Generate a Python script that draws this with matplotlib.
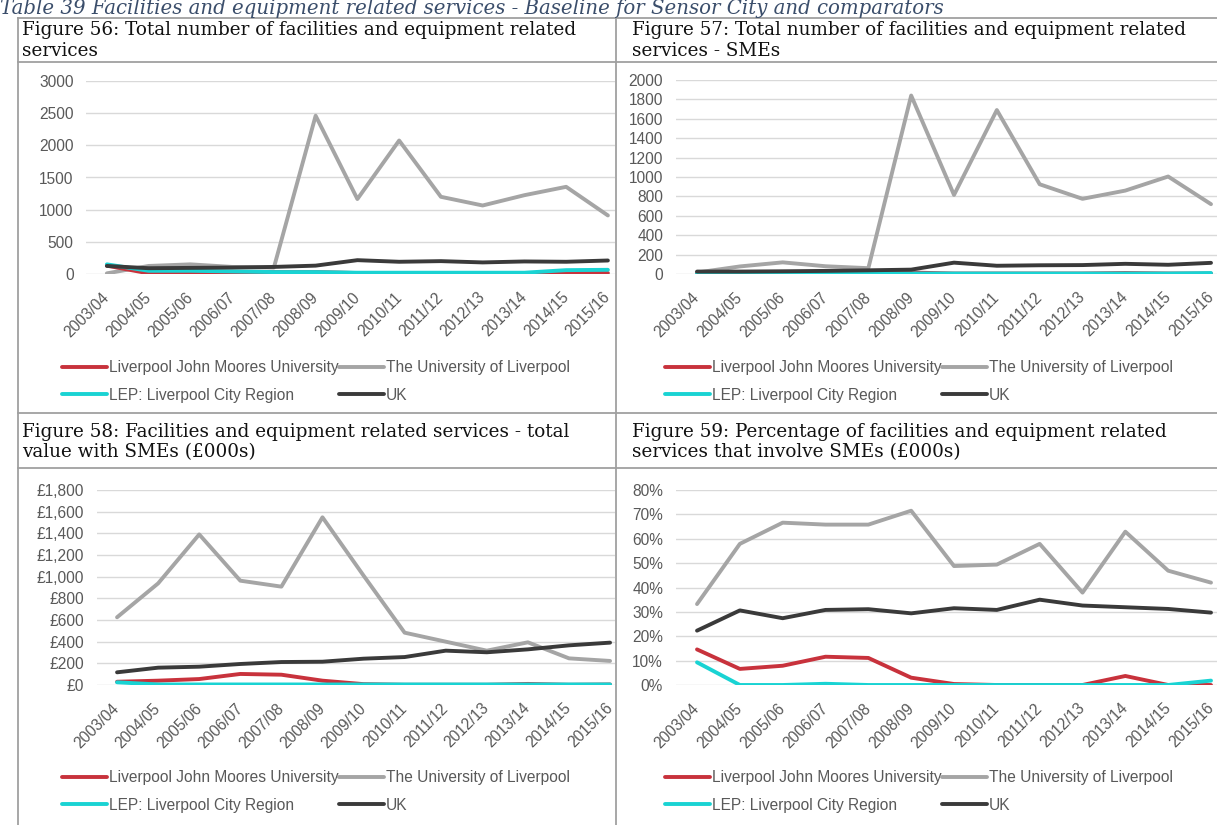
import matplotlib
matplotlib.use("Agg")
import matplotlib.pyplot as plt
from matplotlib.lines import Line2D

# ---------------- data ----------------
years = ["2003/04", "2004/05", "2005/06", "2006/07", "2007/08", "2008/09", "2009/10",
         "2010/11", "2011/12", "2012/13", "2013/14", "2014/15", "2015/16"]

series_names = ["Liverpool John Moores University", "The University of Liverpool",
                "LEP: Liverpool City Region", "UK"]

# Figure 56: total number
total_ljmu = [130, 10, 20, 25, 30, 30, 15, 10, 10, 10, 10, 15, 15]
total_uol = [10, 125, 150, 110, 100, 2460, 1165, 2075, 1200, 1065, 1225, 1355, 910]
total_lep = [150, 50, 50, 40, 30, 30, 20, 20, 20, 20, 20, 60, 65]
total_uk = [125, 90, 95, 100, 110, 130, 215, 190, 200, 180, 195, 190, 210]

# Figure 57: SMEs
sme_ljmu = [15, 12, 10, 12, 15, 15, 5, 5, 5, 5, 10, 5, 5]
sme_uol = [15, 78, 120, 80, 60, 1840, 815, 1690, 925, 775, 860, 1005, 720]
sme_lep = [5, 5, 5, 5, 5, 5, 5, 5, 5, 5, 5, 5, 10]
sme_uk = [25, 25, 28, 32, 38, 45, 117, 85, 90, 92, 105, 95, 115]

# Figure 58: value with SMEs (GBP 000s)
val_ljmu = [30, 40, 55, 102, 95, 40, 8, 2, 2, 2, 10, 2, 5]
val_uol = [625, 938, 1390, 963, 908, 1548, 1010, 483, 400, 317, 394, 246, 222]
val_lep = [25, 5, 5, 5, 5, 5, 5, 5, 5, 5, 5, 5, 5]
val_uk = [117, 160, 169, 194, 212, 215, 243, 258, 317, 302, 329, 366, 391]

# Figure 59: percentage involving SMEs
pct_ljmu = [0.146, 0.066, 0.079, 0.116, 0.111, 0.030, 0.004, 0.0, 0.0, 0.0, 0.037, 0.0, 0.0]
pct_uol = [0.332, 0.579, 0.666, 0.658, 0.658, 0.715, 0.488, 0.494, 0.579, 0.379, 0.629, 0.469, 0.420]
pct_lep = [0.093, 0.0, 0.0, 0.005, 0.0, 0.0, 0.0, 0.0, 0.0, 0.0, 0.0, 0.0, 0.018]
pct_uk = [0.223, 0.306, 0.274, 0.308, 0.311, 0.294, 0.315, 0.308, 0.350, 0.326, 0.319, 0.312, 0.297]

panel_titles = [
    "Figure 56: Total number of facilities and equipment related\nservices",
    "Figure 57: Total number of facilities and equipment related\nservices - SMEs",
    "Figure 58: Facilities and equipment related services - total\nvalue with SMEs (£000s)",
    "Figure 59: Percentage of facilities and equipment related\nservices that involve SMEs (£000s)",
]
table_title = "Table 39 Facilities and equipment related services - Baseline for Sensor City and comparators"

y_ticks_56 = [0, 500, 1000, 1500, 2000, 2500, 3000]
y_ticks_57 = list(range(0, 2001, 200))
y_ticks_58 = list(range(0, 1801, 200))
y_ticks_59 = [0, 0.1, 0.2, 0.3, 0.4, 0.5, 0.6, 0.7, 0.8]

# ---------------- style ----------------
colors = ["#C8323C", "#A5A5A5", "#19D3D3", "#3A3A3A"]
W, H = 1217, 825
fig = plt.figure(figsize=(W / 100, H / 100), dpi=100)
fig.patch.set_facecolor("white")

SANS = ["Liberation Sans", "DejaVu Sans"]
SERIF = ["DejaVu Serif"]
TXT = "#595959"
FS = 11.2


def rect(x0, x1, ytop, ybot):
    return [x0 / W, 1 - ybot / H, (x1 - x0) / W, (ybot - ytop) / H]


def fline(x0, y0, x1, y1, **kw):
    fig.add_artist(Line2D([x0 / W, x1 / W], [1 - y0 / H, 1 - y1 / H],
                          transform=fig.transFigure, color="#A0A0A0", lw=1.3, **kw))


def panel(r, xmax, data, ticks, fmt, legend_xy):
    ax = fig.add_axes(r)
    x = list(range(len(years)))
    lines = {}
    for i in [0, 1, 2, 3]:
        (ln,) = ax.plot(x, data[i], color=colors[i], lw=2.8, solid_capstyle="round",
                        solid_joinstyle="round", zorder=3 + [1, 0, 2, 3][i])
        lines[i] = ln
    ax.set_xlim(-0.5, xmax)
    ax.set_ylim(ticks[0], ticks[-1])
    ax.set_yticks(ticks)
    ax.set_yticklabels([fmt(t) for t in ticks])
    ax.set_xticks(x)
    ax.set_xticklabels(years, rotation=45, ha="right", va="center",
                       rotation_mode="anchor")
    for s in ax.spines.values():
        s.set_visible(False)
    ax.grid(axis="y", color="#D9D9D9", lw=1.0)
    ax.set_axisbelow(True)
    ax.tick_params(axis="both", length=0, labelcolor=TXT, labelsize=FS)
    ax.tick_params(axis="y", pad=9)
    ax.tick_params(axis="x", pad=15)
    for lab in ax.get_xticklabels() + ax.get_yticklabels():
        lab.set_family(SANS)
    handles = [lines[0], lines[2], lines[1], lines[3]]
    labels = [series_names[0], series_names[2], series_names[1], series_names[3]]
    leg = fig.legend(handles, labels, ncol=2, loc="upper left",
                     bbox_to_anchor=(legend_xy[0] / W, 1 - legend_xy[1] / H),
                     frameon=False, handlelength=2.9, handletextpad=0.1,
                     columnspacing=0.05, labelspacing=0.82, borderpad=0,
                     borderaxespad=0, prop={"family": SANS, "size": FS})
    for t in leg.get_texts():
        t.set_color(TXT)
    return ax


panel(rect(86, 615, 81, 274), 12.17, [total_ljmu, total_uol, total_lep, total_uk],
      y_ticks_56, lambda v: f"{v:d}", (62, 360))
panel(rect(675.6, 1217, 80, 274), 12.14, [sme_ljmu, sme_uol, sme_lep, sme_uk],
      y_ticks_57, lambda v: f"{v:d}", (665, 360))
panel(rect(96.5, 615, 490, 685), 12.12, [val_ljmu, val_uol, val_lep, val_uk],
      y_ticks_58, lambda v: f"£{v:,.0f}", (62, 770))
panel(rect(675.6, 1217, 490, 685), 12.14, [pct_ljmu, pct_uol, pct_lep, pct_uk],
      y_ticks_59, lambda v: f"{v * 100:.0f}%", (665, 770))

# ---------------- table borders ----------------
fline(18, 18, W, 18)
fline(18, 62, W, 62)
fline(18, 413, W, 413)
fline(18, 468, W, 468)
fline(18, 18, 18, H)
fline(616, 18, 616, H)

# header texts
hdr_pos = [(22, 21), (632, 21), (22, 423), (632, 423)]
for (hx, hy), t in zip(hdr_pos, panel_titles):
    fig.text(hx / W, 1 - hy / H, t, ha="left", va="top", family=SERIF,
             fontsize=13.2, color="#111111", linespacing=1.18)

fig.text(0 / W, 1 - 14 / H, table_title, ha="left", va="baseline", family=SERIF,
         style="italic", fontsize=14.2, color="#3B4E6B")

fig.savefig("out.png", dpi=100, facecolor="white")
